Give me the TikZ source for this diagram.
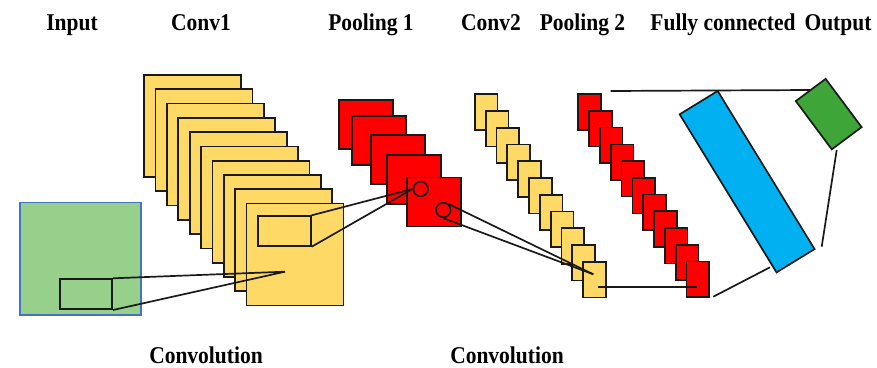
\documentclass[tikz,border=0pt]{standalone}
\usepackage{fontspec}
\setmainfont{Liberation Serif}
\definecolor{fmyellow}{HTML}{FFD966}
\definecolor{fmred}{HTML}{FF0000}
\definecolor{fcblue}{HTML}{00B0F0}
\definecolor{outgreen}{HTML}{3EA638}
\definecolor{ingreen}{HTML}{96D08A}
\definecolor{inborder}{HTML}{4472C4}
\definecolor{edge}{HTML}{1A1A1A}
\newcommand{\tallbf}[1]{\scalebox{1}[1.12]{\fontsize{21.5}{24}\selectfont\bfseries #1}}
\tikzset{
  fmap/.style={draw=edge, line width=1.7pt, rectangle, inner sep=0pt, anchor=north west},
  ymap/.style={fmap, fill=fmyellow},
  rmap/.style={fmap, fill=fmred},
  conn/.style={draw=edge, line width=1.7pt},
  lbl/.style={inner sep=0pt, anchor=base},
  ring/.style={circle, draw=edge, line width=1.7pt, minimum size=14.6pt, inner sep=0pt},
}
\begin{document}
\begin{tikzpicture}[x=1pt, y=-1pt]
\useasboundingbox (0,0) rectangle (877,367);
% labels
\node[lbl] (tin) at (72,30.5) {\tallbf{Input}};
\node[lbl] (tc1) at (201,30.5) {\tallbf{Conv1}};
\node[lbl] (tp1) at (371,30.5) {\tallbf{Pooling 1}};
\node[lbl] (tc2) at (491,30.5) {\tallbf{Conv2}};
\node[lbl] (tp2) at (582.5,30.5) {\tallbf{Pooling 2}};
\node[lbl] (tfc) at (723,30.5) {\tallbf{Fully connected}};
\node[lbl] (tout) at (838,30.5) {\tallbf{Output}};
\node[lbl] (tcv1) at (206,363) {\tallbf{Convolution}};
\node[lbl] (tcv2) at (507,363) {\tallbf{Convolution}};
% input
\node[rectangle, draw=inborder, line width=1.5pt, fill=ingreen, inner sep=0pt, anchor=north west,
  minimum width=121.3pt, minimum height=112.3pt] (in) at (19,201.7) {};
\node[fmap, minimum width=52.3pt, minimum height=30pt] (inr) at (59,278.3) {};
% conv1
\foreach \i in {0,...,9} {
  \node[ymap, minimum width=97pt, minimum height=102pt] (c1\i) at ({143.3+11.38*\i},{74+14.3*\i}) {};
}
\node[fmap, fill=fmyellow, minimum width=52.7pt, minimum height=29.7pt] (c1r) at (257.3,215.3) {};
\coordinate (c1pt) at (285,271.7);
% pooling 1
\node[rmap, minimum width=54pt, minimum height=49pt] (p10) at (338.3,99) {};
\node[rmap, minimum width=54pt, minimum height=49pt] (p11) at (351,115) {};
\node[rmap, minimum width=54pt, minimum height=49pt] (p12) at (370,134) {};
\node[rmap, minimum width=54pt, minimum height=49pt] (p13) at (386,154) {};
\node[rmap, minimum width=54pt, minimum height=49pt] (p14) at (406,176.7) {};
\node[ring] (circ1) at (420.7,189) {};
\node[ring] (circ2) at (443.3,210) {};
% conv2
\foreach \i in {0,...,10} {
  \node[ymap, minimum width=22.7pt, minimum height=35.5pt] (c2\i) at ({474+10.83*\i},{93.3+16.77*\i}) {};
}
\coordinate (c2pt) at (593.3,274.3);
\coordinate (c2pt2) at (598.3,287.3);
% pooling 2
\foreach \i in {0,...,10} {
  \node[rmap, minimum width=22.7pt, minimum height=35.5pt] (p2\i) at ({577.3+10.84*\i},{93.3+16.74*\i}) {};
}
\coordinate (p2pt) at (696.7,287.3);
% fully connected and output
\node[rectangle, draw=edge, line width=1.7pt, fill=fcblue, inner sep=0pt,
  minimum width=185.4pt, minimum height=44.6pt, rotate=-58.5] (fc) at (747.1,181.7) {};
\node[rectangle, draw=edge, line width=1.7pt, fill=outgreen, inner sep=0pt,
  minimum width=60.2pt, minimum height=37.2pt, rotate=-53.3] (out) at (828.7,114.1) {};
\coordinate (topa) at (610.7,91);
\coordinate (topb) at (810,90);
\coordinate (outa) at (836.7,150);
\coordinate (outb) at (821.7,246.7);
\coordinate (fca) at (770,267.3);
\coordinate (fcb) at (713.3,296.7);
% connectors
\draw[conn] (inr.north east) -- (c1pt);
\draw[conn] (inr.south east) -- (c1pt);
\draw[conn] (c1r.north east) -- (circ1.west);
\draw[conn] (c1r.south east) -- (circ1.west);
\draw[conn] (circ2.north east) -- (c2pt);
\draw[conn] (circ2.south) -- (c2pt);
\draw[conn] (c2pt2) -- (p2pt);
\draw[conn] (topa) -- (topb);
\draw[conn] (outa) -- (outb);
\draw[conn] (fca) -- (fcb);
\end{tikzpicture}
\end{document}
